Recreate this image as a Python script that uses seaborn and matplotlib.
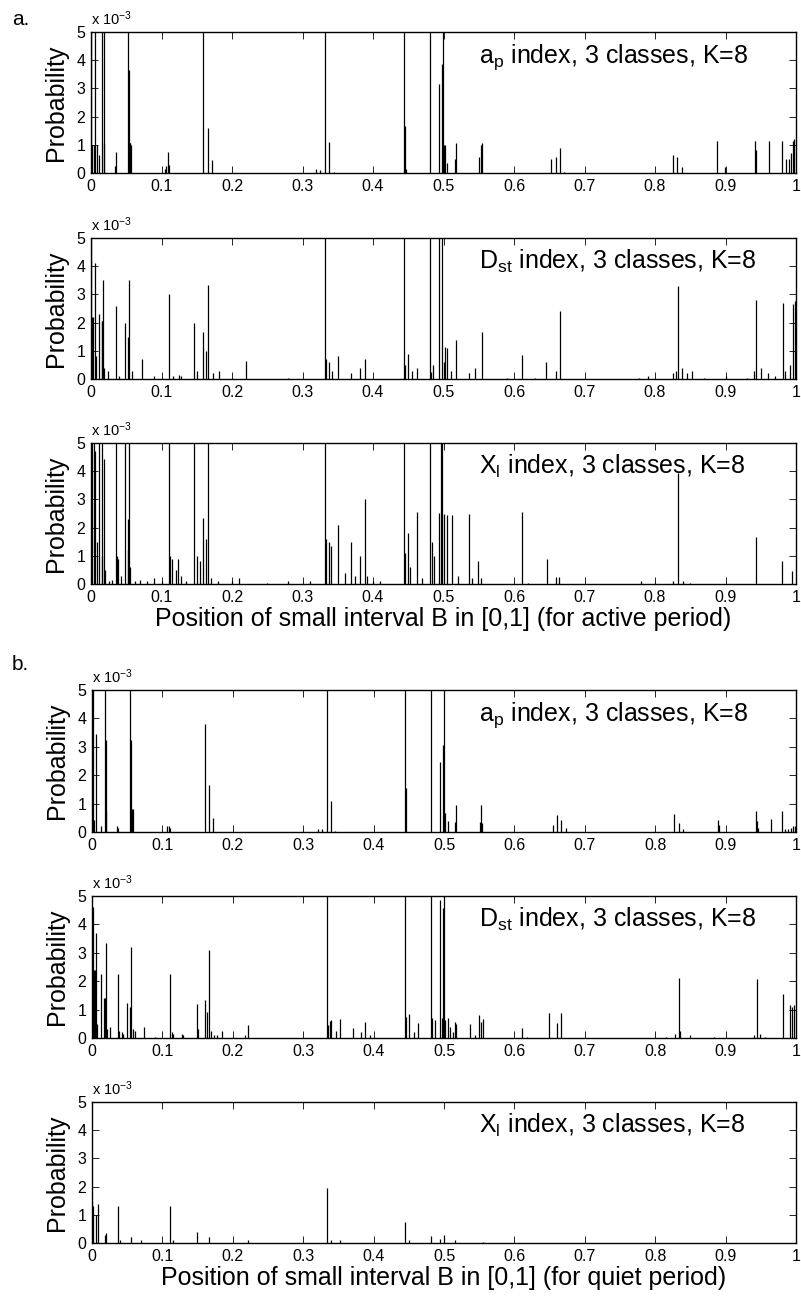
import numpy as np
import matplotlib
matplotlib.use("Agg")
import matplotlib.pyplot as plt
import seaborn as sns

# spike positions in [0,1] and probabilities (units of 1e-3); values > 5 run off the top
ap_act_pos = [0.000, 0.002, 0.004, 0.006, 0.008, 0.0113, 0.016, 0.018, 0.0188, 0.0343, 0.0357,
              0.0522, 0.0536, 0.0550, 0.0560, 0.0570, 0.1055, 0.1065, 0.1095, 0.1105, 0.1594,
              0.1655, 0.1711, 0.3197, 0.3253, 0.3324, 0.3380, 0.3441, 0.4438, 0.4452, 0.4475,
              0.4805, 0.4932, 0.4974, 0.4994, 0.5010, 0.5020, 0.5055, 0.5157, 0.5171, 0.5510,
              0.5526, 0.5540, 0.6530, 0.6591, 0.6648, 0.6710, 0.8251, 0.8307, 0.8378, 0.8881,
              0.8989, 0.9412, 0.9427, 0.9615, 0.9798, 0.9859, 0.9897, 0.9929, 0.9953, 0.9976]
ap_act_val = [8, 1.0, 1.0, 8, 1.0, 0.63, 8, 8, 1.05, 0.25, 0.75,
              8, 3.65, 1.05, 1.05, 1.0, 0.15, 0.25, 0.75, 0.3, 8,
              1.6, 0.45, 0.15, 0.1, 8, 1.1, 0.05, 8, 1.65, 0.15,
              8, 3.15, 3.85, 8, 1.0, 1.0, 0.35, 0.5, 1.05, 0.55,
              1.0, 1.05, 0.5, 0.55, 0.9, 0.05, 0.65, 0.55, 0.2, 1.15,
              0.2, 1.15, 0.8, 1.15, 1.15, 0.5, 0.5, 0.7, 1.15, 1.2]

dst_act_pos = [0.0000, 0.0014, 0.0028, 0.0056, 0.0071, 0.0113, 0.0150, 0.0160, 0.0174, 0.0190,
               0.0240, 0.0357, 0.0400, 0.0484, 0.0527, 0.0545, 0.0580, 0.0729, 0.0900, 0.1000,
               0.1100, 0.1160, 0.1250, 0.1280, 0.1467, 0.1500, 0.1589, 0.1631, 0.1655, 0.1730,
               0.1820, 0.2000, 0.2205, 0.2800, 0.3324, 0.3340, 0.3380, 0.3420, 0.3507, 0.3690,
               0.3820, 0.3888, 0.4438, 0.4452, 0.4494, 0.4550, 0.4620, 0.4805, 0.4820, 0.4850,
               0.4932, 0.4985, 0.5000, 0.5017, 0.5050, 0.5100, 0.5180, 0.5360, 0.5450, 0.5540,
               0.5900, 0.6110, 0.6300, 0.6460, 0.6600, 0.6657, 0.7770, 0.7900, 0.8260, 0.8300,
               0.8331, 0.8380, 0.8450, 0.8520, 0.8700, 0.9000, 0.9300, 0.9400, 0.9438, 0.9500,
               0.9600, 0.9700, 0.9810, 0.9850, 0.9920, 0.9960, 0.9985]
dst_act_val = [8, 2.2, 2.2, 4.1, 0.8, 2.3, 2.05, 2.05, 3.5, 0.4,
               0.3, 2.6, 0.1, 2.0, 1.5, 3.5, 0.3, 0.7, 0.1, 0.05,
               3.0, 0.1, 0.15, 0.1, 2.0, 0.3, 1.65, 1.0, 3.35, 0.2,
               0.3, 0.05, 0.65, 0.05, 8, 0.7, 0.6, 0.3, 0.83, 0.2,
               0.4, 0.7, 8, 0.5, 0.88, 0.3, 0.4, 8, 0.25, 0.5,
               8, 8, 0.6, 1.14, 1.1, 0.3, 1.4, 0.2, 0.4, 1.65,
               0.05, 0.85, 0.05, 0.6, 0.3, 2.4, 0.05, 0.1, 0.2, 0.3,
               3.3, 0.4, 0.2, 0.3, 0.05, 0.1, 0.05, 0.3, 2.8, 0.4,
               0.2, 0.1, 2.68, 0.3, 0.5, 2.65, 2.75]

xl_act_pos = [0.0000, 0.0020, 0.0040, 0.0056, 0.0080, 0.0113, 0.0150, 0.0160, 0.0179, 0.0200,
              0.0250, 0.0300, 0.0357, 0.0370, 0.0390, 0.0420, 0.0484, 0.0520, 0.0527, 0.0545,
              0.0560, 0.0620, 0.0700, 0.0800, 0.0900, 0.1000, 0.1100, 0.1115, 0.1150, 0.1200,
              0.1240, 0.1280, 0.1350, 0.1467, 0.1500, 0.1540, 0.1589, 0.1631, 0.1655, 0.1700,
              0.1800, 0.2000, 0.2100, 0.2500, 0.2800, 0.3100, 0.3324, 0.3340, 0.3370, 0.3410,
              0.3507, 0.3600, 0.3690, 0.3750, 0.3815, 0.3888, 0.3920, 0.4000, 0.4100, 0.4438,
              0.4452, 0.4490, 0.4520, 0.4620, 0.4700, 0.4805, 0.4830, 0.4870, 0.4932, 0.4960,
              0.4985, 0.5012, 0.5050, 0.5126, 0.5200, 0.5355, 0.5400, 0.5490, 0.5530, 0.6107,
              0.6200, 0.6470, 0.6590, 0.6640, 0.7800, 0.8000, 0.8250, 0.8331, 0.8400, 0.8500,
              0.9438, 0.9800, 0.9950]
xl_act_val = [8, 8, 8, 4.7, 1.5, 8, 8, 1.0, 4.45, 0.5,
              0.1, 0.15, 8, 1.0, 0.9, 0.3, 8, 1.2, 2.3, 8,
              0.6, 0.1, 0.15, 0.1, 0.2, 0.1, 8, 1.0, 0.9, 0.5,
              0.9, 0.3, 0.1, 8, 1.0, 0.8, 2.35, 1.6, 8, 0.2,
              0.1, 0.1, 0.2, 0.05, 0.1, 0.1, 8, 1.6, 1.5, 1.35,
              2.1, 0.4, 1.5, 0.3, 1.0, 3.0, 0.3, 0.1, 0.1, 8,
              1.1, 1.82, 0.6, 2.55, 0.2, 8, 1.5, 1.0, 2.53, 8,
              8, 2.5, 2.45, 2.45, 0.3, 2.5, 0.2, 0.8, 0.2, 2.55,
              0.05, 0.87, 0.25, 0.25, 0.1, 0.05, 0.1, 3.95, 0.1, 0.05,
              1.65, 0.8, 0.45]

ap_qui_pos = [0.0000, 0.0015, 0.0030, 0.0061, 0.0122, 0.0179, 0.0193, 0.0202, 0.0357, 0.0367,
              0.0536, 0.0555, 0.0569, 0.0578, 0.1070, 0.1095, 0.1110, 0.1603, 0.1669, 0.1725,
              0.3211, 0.3267, 0.3338, 0.3394, 0.3455, 0.4443, 0.4457, 0.4810, 0.4942, 0.4979,
              0.4998, 0.5021, 0.5054, 0.5162, 0.5176, 0.5510, 0.5525, 0.5540, 0.6550, 0.6605,
              0.6666, 0.6728, 0.8270, 0.8331, 0.8392, 0.8886, 0.8910, 0.9425, 0.9440, 0.9460,
              0.9638, 0.9802, 0.9840, 0.9890, 0.9930, 0.9960, 0.9990]
ap_qui_val = [8, 8, 0.41, 3.46, 0.2, 8, 3.24, 0.79, 0.2, 0.15,
              8, 3.24, 0.8, 0.8, 0.2, 0.2, 0.15, 3.79, 1.65, 0.49,
              0.1, 0.1, 8, 1.1, 0.05, 8, 1.55, 8, 2.47, 3.06,
              8, 0.67, 0.4, 0.35, 0.96, 0.35, 0.96, 0.3, 0.25, 0.6,
              0.44, 0.15, 0.65, 0.3, 0.1, 0.41, 0.25, 0.73, 0.4, 0.15,
              0.45, 0.75, 0.1, 0.1, 0.15, 0.2, 0.2]

dst_qui_pos = [0.0000, 0.0014, 0.0028, 0.0042, 0.0061, 0.0075, 0.0122, 0.0164, 0.0179, 0.0193,
               0.0212, 0.0249, 0.0371, 0.0390, 0.0428, 0.0447, 0.0498, 0.0541, 0.0560, 0.0578,
               0.0616, 0.0733, 0.0900, 0.1110, 0.1133, 0.1157, 0.1274, 0.1293, 0.1486, 0.1509,
               0.1603, 0.1636, 0.1664, 0.1688, 0.1730, 0.1777, 0.1848, 0.2000, 0.2176, 0.2214,
               0.3338, 0.3352, 0.3376, 0.3390, 0.3470, 0.3517, 0.3705, 0.3822, 0.3883, 0.3950,
               0.4443, 0.4457, 0.4504, 0.4570, 0.4630, 0.4810, 0.4824, 0.4871, 0.4942, 0.4966,
               0.4979, 0.4998, 0.5021, 0.5054, 0.5092, 0.5129, 0.5162, 0.5176, 0.5374, 0.5445,
               0.5491, 0.5525, 0.5553, 0.6112, 0.6173, 0.6488, 0.6605, 0.6666, 0.8148, 0.8280,
               0.8336, 0.8350, 0.8500, 0.8830, 0.9410, 0.9450, 0.9490, 0.9560, 0.9820, 0.9910,
               0.9940, 0.9970]
dst_qui_val = [2.4, 4.6, 2.4, 2.4, 3.68, 0.5, 2.25, 1.41, 1.4, 3.35,
               0.3, 0.39, 2.27, 0.25, 0.2, 0.15, 1.24, 1.09, 3.19, 0.3,
               0.25, 0.39, 0.05, 2.25, 0.2, 0.15, 0.15, 0.1, 1.19, 0.3,
               1.33, 0.92, 3.09, 0.25, 0.1, 0.1, 0.25, 0.05, 0.1, 0.45,
               8, 0.45, 0.6, 0.65, 0.25, 0.68, 0.35, 0.2, 0.56, 0.1,
               8, 0.74, 0.86, 0.2, 0.54, 8, 0.72, 0.62, 4.86, 0.7,
               4.56, 8, 0.65, 0.7, 0.4, 0.2, 0.55, 0.5, 0.5, 0.1,
               0.8, 0.55, 0.68, 0.36, 0.05, 0.89, 0.54, 0.89, 0.05, 0.15,
               2.13, 0.25, 0.1, 0.05, 0.1, 2.09, 0.15, 0.05, 1.54, 1.15,
               1.1, 1.15]

xl_qui_pos = [0.0000, 0.0014, 0.0061, 0.0090, 0.0179, 0.0193, 0.0371, 0.0400, 0.0560, 0.0700,
              0.1110, 0.1150, 0.1486, 0.1664, 0.2214, 0.3338, 0.3390, 0.3517, 0.4443, 0.4504,
              0.4810, 0.4942, 0.4998, 0.5162, 0.5553]
xl_qui_val = [1.5, 1.3, 1.0, 1.4, 0.3, 0.35, 1.3, 0.1, 0.2, 0.1,
              1.3, 0.1, 0.4, 0.2, 0.1, 1.95, 0.1, 0.1, 0.75, 0.1,
              0.25, 0.15, 0.3, 0.1, 0.05]

x_ticks = [0, 0.1, 0.2, 0.3, 0.4, 0.5, 0.6, 0.7, 0.8, 0.9, 1]
x_ticklabels = ["0", "0.1", "0.2", "0.3", "0.4", "0.5", "0.6", "0.7", "0.8", "0.9", "1"]
y_ticks = [0, 1, 2, 3, 4, 5]

panels = [
    (ap_act_pos, ap_act_val, "a$_\\mathregular{p}$ index, 3 classes, K=8"),
    (dst_act_pos, dst_act_val, "D$_\\mathregular{st}$ index, 3 classes, K=8"),
    (xl_act_pos, xl_act_val, "X$_\\mathregular{l}$ index, 3 classes, K=8"),
    (ap_qui_pos, ap_qui_val, "a$_\\mathregular{p}$ index, 3 classes, K=8"),
    (dst_qui_pos, dst_qui_val, "D$_\\mathregular{st}$ index, 3 classes, K=8"),
    (xl_qui_pos, xl_qui_val, "X$_\\mathregular{l}$ index, 3 classes, K=8"),
]

sns.set_theme(style="ticks")
plt.rcParams['font.family'] = ['Liberation Sans', 'DejaVu Sans']
plt.rcParams['mathtext.fontset'] = 'custom'
plt.rcParams['mathtext.rm'] = 'Liberation Sans'
plt.rcParams['mathtext.it'] = 'Liberation Sans'
plt.rcParams['text.color'] = 'black'
plt.rcParams['axes.labelcolor'] = 'black'
plt.rcParams['xtick.color'] = 'black'
plt.rcParams['ytick.color'] = 'black'

W, H = 801, 1296
fig = plt.figure(figsize=(W / 100, H / 100), dpi=100)

# axes boxes in pixels: left, top, right, bottom
boxes = [
    (91, 32, 796, 173),
    (91, 238, 796, 379),
    (91, 443, 796, 584),
    (92, 690, 796, 832),
    (92, 896, 796, 1038),
    (92, 1102, 796, 1243),
]

for i, ((pos, val, label), (l, t, r, b)) in enumerate(zip(panels, boxes)):
    ax = fig.add_axes([l / W, 1 - b / H, (r - l) / W, (b - t) / H])
    ax.vlines(pos, 0, val, color="black", linewidth=0.9)
    ax.set_xlim(0, 1)
    ax.set_ylim(0, 5)
    ax.set_xticks(x_ticks)
    ax.set_xticklabels(x_ticklabels)
    ax.set_yticks(y_ticks)
    ax.tick_params(direction="in", top=True, right=True, length=5, width=0.6,
                   labelsize=11.5, pad=4, colors="black")
    for s in ax.spines.values():
        s.set_linewidth(1.0)
        s.set_color("black")
    ax.set_ylabel("Probability", fontsize=18, labelpad=6)
    ax.text(0.0, 1.03, "x 10$^{-3}$", transform=ax.transAxes, fontsize=10.5,
            ha="left", va="bottom")
    ax.text(0.55, 3.9, label, fontsize=18, ha="left", va="baseline")
    if i == 2:
        ax.set_xlabel("Position of small interval B in [0,1] (for active period)",
                      fontsize=18, labelpad=2)
    if i == 5:
        ax.set_xlabel("Position of small interval B in [0,1] (for quiet period)",
                      fontsize=18, labelpad=2)

fig.text(12 / W, 1 - 25 / H, "a.", fontsize=15, ha="left", va="baseline")
fig.text(12 / W, 1 - 670 / H, "b.", fontsize=15, ha="left", va="baseline")

fig.savefig("out.png", dpi=100, facecolor="white")
